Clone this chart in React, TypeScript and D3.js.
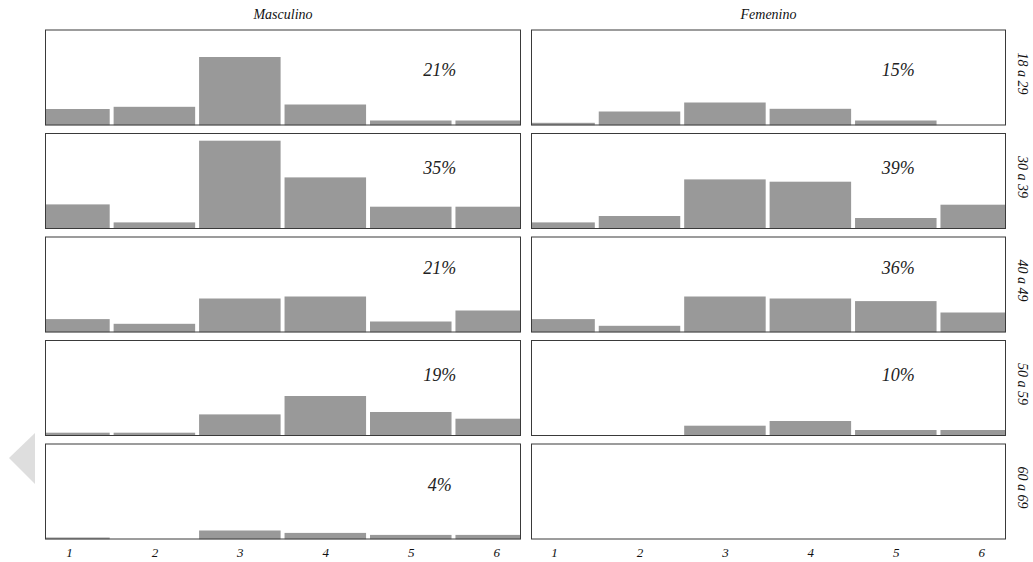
import * as d3 from "d3"
import { useEffect, useRef } from "react"

// categories on the x axis
const categories = [1, 2, 3, 4, 5, 6]
const sexes = ["Masculino", "Femenino"]
const ageGroups = ["18 a 29", "30 a 39", "40 a 49", "50 a 59", "60 a 69"]

// bar heights per age group (rows) and category
const masculino = [
  [16.5, 18.7, 68.5, 21, 5, 5],
  [24.6, 6.6, 88.3, 51.6, 22.3, 22.3],
  [13.4, 8.7, 34, 36, 11, 22],
  [3.3, 3.3, 21.6, 40, 24, 17.3],
  [2, 0, 9, 6.6, 4.6, 4.6],
]
const femenino = [
  [2.7, 14, 23, 16.7, 5, 0],
  [6.6, 13, 49.6, 47.3, 11, 24.3],
  [13.4, 6.7, 36, 34, 31.4, 20],
  [0, 0, 10.3, 15, 6, 6],
  [0, 0, 0, 0, 0, 0],
]

// share of each sex in each age group
const masculinoPct = ["21%", "35%", "21%", "19%", "4%"]
const femeninoPct = ["15%", "39%", "36%", "10%", ""]

// height (data units) where the percentage sits in each row
const pctLabelY = [54, 59, 63, 59, 53]

const App = () => {
  const ref = useRef<SVGSVGElement>(null)

  useEffect(() => {
    const width = 1033
    const height = 562
    const svg = d3.select(ref.current)
    svg.selectAll("*").remove()
    svg.attr("width", width).attr("height", height)

    const font = "'Liberation Serif', 'Times New Roman', serif"
    const cols = [
      { x0: 45, x1: 521, domain: [0.72, 6.29], values: masculino, pct: masculinoPct, pctX: 5.34 },
      { x0: 531, x1: 1006, domain: [0.73, 6.29], values: femenino, pct: femeninoPct, pctX: 5.03 },
    ]
    const top = 29.5
    const panelH = 96
    const step = 103.5

    // the grey "back" chevron at the left edge
    svg
      .append("polygon")
      .attr("points", "35,433 35,484 9,458")
      .attr("fill", "#dedede")

    const defs = svg.append("defs")

    cols.forEach((col, ci) => {
      const x = d3.scaleLinear().domain(col.domain).range([col.x0, col.x1])

      svg
        .append("text")
        .attr("x", (col.x0 + col.x1) / 2)
        .attr("y", 16)
        .attr("text-anchor", "middle")
        .attr("dominant-baseline", "middle")
        .attr("font-family", font)
        .attr("font-style", "italic")
        .attr("font-size", 14)
        .attr("fill", "#111")
        .text(sexes[ci])

      ageGroups.forEach((age, ri) => {
        const py = top + ri * step
        const y = d3.scaleLinear().domain([0, panelH]).range([py + panelH, py])
        const id = `clip-${ci}-${ri}`
        defs
          .append("clipPath")
          .attr("id", id)
          .append("rect")
          .attr("x", col.x0)
          .attr("y", py)
          .attr("width", col.x1 - col.x0)
          .attr("height", panelH)

        const g = svg.append("g")

        g.append("rect")
          .attr("x", col.x0)
          .attr("y", py)
          .attr("width", col.x1 - col.x0)
          .attr("height", panelH)
          .attr("fill", "#fff")

        g.append("g")
          .attr("clip-path", `url(#${id})`)
          .selectAll("rect")
          .data(col.values[ri])
          .enter()
          .append("rect")
          .attr("x", (d, i) => x(categories[i] - 0.477))
          .attr("width", (d, i) => x(categories[i] + 0.477) - x(categories[i] - 0.477))
          .attr("y", (d) => y(d))
          .attr("height", (d) => y(0) - y(d))
          .attr("fill", "#999999")

        g.append("rect")
          .attr("x", col.x0 + 0.5)
          .attr("y", py + 0.5)
          .attr("width", col.x1 - col.x0 - 1)
          .attr("height", panelH - 1)
          .attr("fill", "none")
          .attr("stroke", "#3a3a3a")
          .attr("stroke-width", 1)

        if (col.pct[ri]) {
          g.append("text")
            .attr("x", x(col.pctX))
            .attr("y", y(pctLabelY[ri]))
            .attr("text-anchor", "middle")
            .attr("dominant-baseline", "middle")
            .attr("font-family", font)
            .attr("font-style", "italic")
            .attr("font-size", 18)
            .attr("fill", "#222")
            .text(col.pct[ri])
        }

        if (ci === 1) {
          svg
            .append("text")
            .attr("transform", `translate(1021,${py + panelH / 2 - 4}) rotate(90)`)
            .attr("text-anchor", "middle")
            .attr("dominant-baseline", "middle")
            .attr("font-family", font)
            .attr("font-style", "italic")
            .attr("font-size", 14)
            .attr("fill", "#111")
            .text(age)
        }
      })

      // tick labels under the bottom row
      const axisY = top + 4 * step + panelH
      svg
        .append("g")
        .attr("transform", `translate(0,${axisY})`)
        .call(
          d3
            .axisBottom(x)
            .tickValues(categories)
            .tickFormat(d3.format("d"))
            .tickSize(0)
            .tickPadding(8)
        )
        .call((a) => a.select(".domain").remove())
        .selectAll("text")
        .attr("font-family", font)
        .attr("font-style", "italic")
        .attr("font-size", 13)
        .attr("fill", "#111")
    })
  }, [])

  return (
    <svg
      ref={ref}
      style={{ position: "absolute", left: 0, top: 0, background: "#fff" }}
    />
  )
}

export default App
